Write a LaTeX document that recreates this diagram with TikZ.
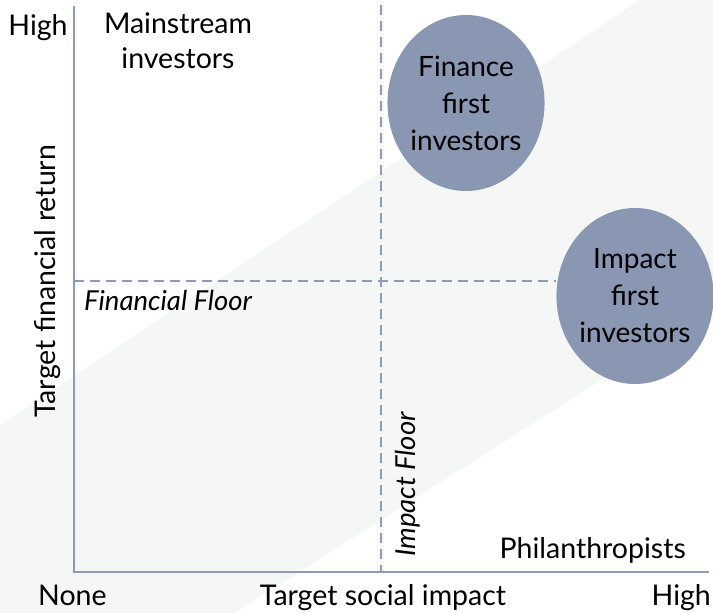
\documentclass[tikz,border=0pt]{standalone}
\usepackage{fontspec}
\setmainfont{Lato}
\usetikzlibrary{shapes.geometric, positioning}
\definecolor{axisblue}{HTML}{8C9BBA}
\definecolor{investorfill}{HTML}{8A97B3}
\definecolor{bandgray}{HTML}{F4F7F6}
\tikzstyle{axis} = [
	line width=2pt,
	draw=axisblue,
]
\tikzstyle{floorline} = [
	line width=2pt,
	draw=axisblue,
	dash pattern=on 10pt off 6pt,
]
\tikzstyle{investor} = [
	ellipse,
	fill=investorfill,
	minimum width=154pt,
	minimum height=176pt,
	inner sep=0pt,
	align=center,
	font=\fontsize{28}{37}\selectfont,
]
\tikzstyle{plaintext} = [
	inner sep=0pt,
	align=center,
	font=\fontsize{28.5}{35}\selectfont,
]
\tikzstyle{floortext} = [
	inner sep=0pt,
	font=\fontsize{27.5}{30}\selectfont\itshape,
]

\begin{document}
\begin{tikzpicture}[x=1pt, y=-1pt]
		\useasboundingbox (0,0) rectangle (713,613);
		% light diagonal band behind the chart
		\fill [bandgray] (0,425) -- (640,0) -- (713,0) -- (713,309) -- (235,613) -- (0,613) -- cycle;

		\coordinate (origin) at (74,572);
		\coordinate (ytop) at (74,6);
		\coordinate (xend) at (709,572);
		\coordinate (finfloor) at (74,281);
		\coordinate (impfloortop) at (381,5);
		\coordinate (impfloor) at (381,572);

		\node (finance) [investor] at (466,103) {Finance\\first\\investors};
		\node (impact) [investor] at (635,296) {Impact\\first\\investors};

		\draw [axis] (ytop) -- (origin) -- (xend);
		\draw [floorline] (finfloor) -- (impact.west |- finfloor);
		\draw [floorline] (impfloortop) -- (impfloor);

		\node (yhigh) [plaintext, anchor=base] at (38,35) {High};
		\node (mainstream) [plaintext, anchor=base] at (178,68) {Mainstream\\investors};
		\node (finlabel) [floortext, anchor=base west] at (84,310) {Financial Floor};
		\node (implabel) [floortext, rotate=90, anchor=base west] at (415,557) {Impact Floor};
		\node (ylabel) [plaintext, rotate=90, anchor=base west] at (55,418) {Target financial return};
		\node (phil) [plaintext, anchor=base east] at (686,558) {Philanthropists};
		\node (xnone) [plaintext, anchor=base west] at (38,605) {None};
		\node (xlabel) [plaintext, anchor=base] at (383,605) {Target social impact};
		\node (xhigh) [plaintext, anchor=base east] at (711,605) {High};
	\end{tikzpicture}
\end{document}
